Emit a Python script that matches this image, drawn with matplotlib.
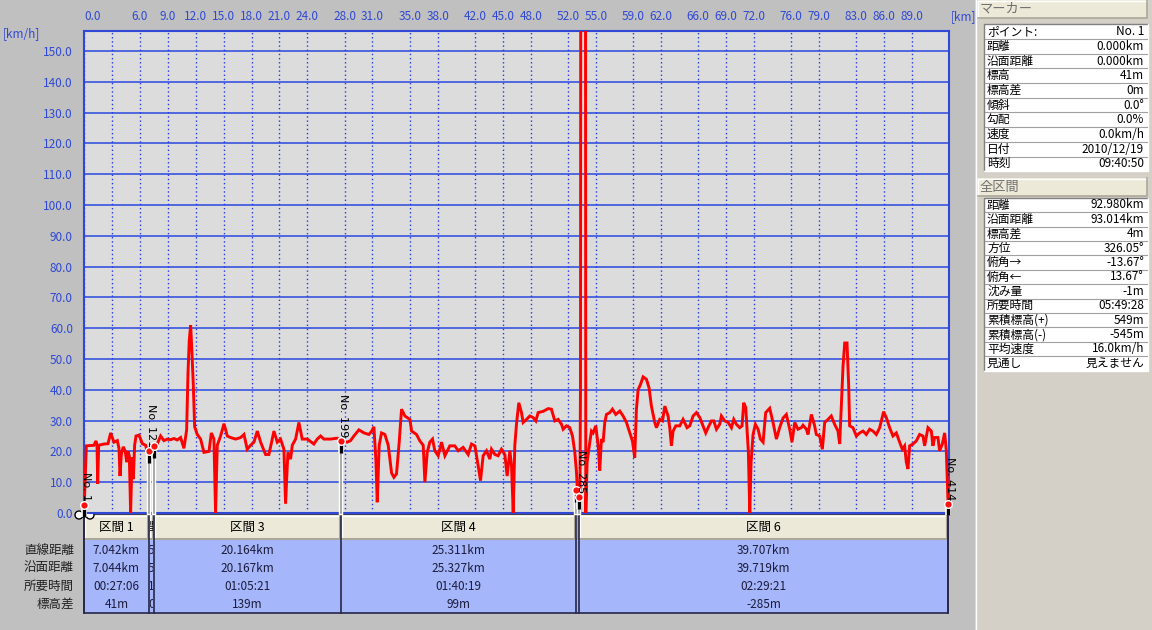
import matplotlib
matplotlib.use('Agg')
import matplotlib.pyplot as plt
from matplotlib.patches import Rectangle, Circle
from matplotlib.transforms import ScaledTranslation, Bbox
import matplotlib.patheffects as pe

plt.rcParams['font.family'] = ['Noto Sans CJK JP', 'DejaVu Sans']

# ---------------- data ----------------
dist_km = [
    0.00, 0.25, 1.07, 1.29, 1.40, 1.47, 1.58, 2.15, 2.58, 2.86, 3.22, 3.58, 3.76, 3.87, 4.01,
    4.22, 4.44, 4.58, 4.73, 4.87, 5.01, 5.16, 5.30, 5.44, 5.59, 5.91, 6.27, 6.62, 6.87, 7.02,
    7.23, 7.52, 7.88, 8.23, 8.59, 8.95, 9.31, 9.67, 10.02, 10.38, 10.74, 11.03, 11.17, 11.31,
    11.46, 11.60, 11.74, 11.89, 12.17, 12.53, 12.89, 13.43, 13.68, 13.96, 14.14, 14.32, 14.68,
    15.04, 15.40, 15.75, 16.29, 16.83, 17.19, 17.54, 17.90, 18.26, 18.62, 18.98, 19.51, 19.87,
    20.41, 20.77, 21.12, 21.48, 21.66, 21.91, 22.20, 22.38, 22.74, 23.09, 23.45, 23.99, 24.70,
    25.06, 25.42, 25.78, 26.49, 27.21, 27.75, 28.28, 28.64, 29.00, 29.54, 30.08, 30.61,
    30.90, 31.15, 31.36, 31.51, 31.72, 31.97, 32.33, 32.69, 33.05, 33.30, 33.58, 33.87, 34.12,
    34.48, 35.02, 35.20, 35.73, 36.09, 36.45, 36.63, 36.88, 37.16, 37.45, 37.70, 38.06, 38.42,
    38.78, 39.31, 39.85, 40.21, 40.74, 41.28, 41.64, 42.00, 42.18, 42.61, 42.89, 43.25, 43.61,
    43.79, 44.15, 44.50, 44.86, 45.22, 45.47, 45.76, 45.94, 46.12, 46.29, 46.47, 46.72, 47.01,
    47.19, 47.55, 47.91, 48.26, 48.55, 48.80, 49.34, 49.88, 50.23, 50.59, 50.95, 51.31, 51.49,
    51.84, 52.20, 52.49, 52.74, 52.92, 53.10, 53.28, 53.35, 53.42, 53.85, 53.92, 54.06, 54.35,
    54.53, 54.71, 54.99, 55.25, 55.42, 55.60, 55.78, 55.96, 56.14, 56.50, 56.78, 57.14, 57.57,
    57.93, 58.29, 58.65, 58.93, 59.18, 59.36, 59.54, 59.79, 60.08, 60.44, 60.72, 60.97, 61.33,
    61.51, 61.87, 62.16, 62.41, 62.76, 62.94, 63.12, 63.30, 63.59, 64.02, 64.37, 64.80, 65.09,
    65.45, 65.81, 66.17, 66.52, 66.81, 67.06, 67.42, 67.67, 67.96, 68.31, 68.49, 68.85, 69.21,
    69.57, 69.82, 70.10, 70.46, 70.71, 70.89, 71.11, 71.25, 71.39, 71.54, 71.68, 71.89, 72.14,
    72.43, 72.68, 72.97, 73.25, 73.68, 74.04, 74.40, 74.75, 75.11, 75.47, 75.83, 76.08, 76.37,
    76.72, 77.08, 77.26, 77.62, 77.80, 78.16, 78.51, 78.69, 79.05, 79.34, 79.59, 79.95, 80.30,
    80.66, 81.02, 81.20, 81.38, 81.56, 81.74, 81.99, 82.17, 82.27, 82.63, 82.99, 83.35, 83.71,
    84.06, 84.42, 84.78, 85.14, 85.50, 85.92, 86.21, 86.57, 86.93, 87.29, 87.64, 87.93, 88.18,
    88.36, 88.54, 88.72, 89.08, 89.43, 89.79, 90.15, 90.33, 90.69, 91.05, 91.22, 91.40, 91.76,
    91.94, 92.23, 92.48, 92.66, 92.85,
]
speed_kmh = [
    0.0, 21.8, 22.0, 23.4, 22.0, 9.5, 22.0, 22.4, 22.5, 26.0, 23.0, 23.5, 21.0, 12.0, 19.0,
    21.5, 20.0, 16.5, 20.0, 18.5, 0.0, 18.0, 11.0, 22.0, 25.0, 25.3, 22.5, 22.0, 19.0, 17.5,
    19.5, 22.0, 22.5, 25.0, 23.5, 24.0, 23.8, 24.2, 23.7, 24.5, 21.0, 27.0, 45.0, 56.0,
    61.0, 52.0, 42.0, 28.0, 25.5, 24.0, 19.7, 20.0, 26.0, 24.0, 0.0, 22.0, 25.0,
    29.0, 25.0, 24.5, 24.0, 24.5, 25.5, 20.7, 22.0, 23.0, 26.6, 23.0, 19.0, 19.0,
    26.6, 23.0, 24.0, 20.7, 3.0, 19.7, 17.5, 22.0, 24.0, 29.4, 24.0, 24.0, 22.4,
    24.0, 25.0, 24.0, 24.0, 24.3, 23.4, 23.0, 23.5, 25.0, 27.0, 26.0, 25.5,
    26.5, 28.0, 17.5, 3.5, 22.0, 26.0, 25.5, 22.0, 13.0, 11.6, 12.7, 23.0, 33.7,
    31.5, 30.4, 26.6, 25.5, 23.4, 22.0, 10.0, 19.7, 23.0, 24.0, 20.2, 18.6, 23.0,
    18.6, 21.8, 21.8, 20.2, 21.3, 19.0, 22.4, 21.8, 18.6, 10.5, 18.6, 20.2, 17.5,
    20.7, 19.0, 18.6, 20.7, 19.0, 12.0, 20.2, 15.4, 0.0, 21.8, 28.8, 35.8, 32.6,
    29.4, 30.4, 31.5, 31.0, 29.9, 32.6, 33.0, 33.9, 33.7, 29.9, 30.4, 28.8, 27.2,
    28.3, 27.7, 25.0, 19.7, 13.2, 2.5, 0.0, 41.0, 400.0, 400.0, 0.0, 16.5, 23.0,
    26.6, 26.0, 28.3, 21.8, 13.8, 24.0, 23.0, 29.4, 32.0, 32.6, 33.7, 32.0, 33.1,
    31.5, 29.4, 26.0, 23.4, 18.0, 33.7, 40.0, 41.7, 44.2, 43.4, 40.6, 34.7, 29.4,
    27.7, 30.4, 29.9, 34.7, 31.5, 27.7, 21.8, 26.6, 28.3, 28.3, 30.4, 27.7, 28.3,
    31.5, 32.6, 31.0, 28.3, 26.0, 27.7, 29.9, 29.9, 27.2, 28.8, 31.5, 29.9, 29.4,
    27.7, 30.4, 28.8, 27.7, 28.3, 35.8, 34.2, 27.2, 19.7, 0.0, 16.5, 25.5, 28.8,
    27.2, 24.0, 23.0, 32.6, 34.0, 29.4, 24.0, 27.7, 30.8, 32.0, 27.2, 23.0, 29.4,
    27.2, 27.7, 28.5, 27.2, 25.5, 32.0, 28.3, 25.5, 25.0, 20.7, 29.4, 30.4, 31.5,
    28.8, 26.6, 22.4, 34.7, 47.6, 55.2, 55.2, 41.2, 28.3, 27.7, 25.0, 26.0, 26.6,
    25.5, 27.2, 26.6, 25.5, 27.7, 32.9, 31.0, 27.7, 25.0, 26.0, 23.0, 20.7, 21.8,
    16.5, 14.3, 21.8, 22.4, 23.4, 25.5, 25.0, 21.8, 27.7, 26.6, 21.8, 24.5, 24.5,
    20.2, 22.4, 26.0, 20.2, 3.0,
]

x_ticks = [0, 3, 6, 9, 12, 15, 18, 21, 24, 28, 31, 35, 38, 42, 45, 48, 52, 55,
           59, 62, 66, 69, 72, 76, 79, 83, 86, 89]
x_tick_labels = ['0.0', ''] + ['%.1f' % v for v in x_ticks[2:]]
y_ticks = list(range(0, 151, 10))
y_tick_labels = ['%.1f' % v for v in y_ticks]

marker_km = [0.0, 6.97, 7.51, 27.62, 52.92, 53.20, 92.85]
marker_speed = [2.5, 20.1, 21.8, 23.4, 7.5, 5.2, 3.0]
marker_labels = ['No. 1', 'No. 121', '', 'No. 199', '', 'No. 285', 'No. 414']

# narrow sections (2 and 5) only show a sliver of their text in the reference
section_names = ['区間 1', '間', '区間 3', '区間 4', '', '区間 6']
row_names = ['直線距離', '沿面距離', '所要時間', '標高差']
sec_straight = ['7.042km', '5', '20.164km', '25.311km', '', '39.707km']
sec_surface = ['7.044km', '5', '20.167km', '25.327km', '', '39.719km']
sec_time = ['00:27:06', '1', '01:05:21', '01:40:19', '', '02:29:21']
sec_elev = ['41m', '0', '139m', '99m', '', '-285m']

marker_rows = ['ポイント:', '距離', '沿面距離', '標高', '標高差', '傾斜', '勾配',
               '速度', '日付', '時刻']
marker_vals = ['No. 1', '0.000km', '0.000km', '41m', '0m', '0.0°', '0.0%',
               '0.0km/h', '2010/12/19', '09:40:50']
total_rows = ['距離', '沿面距離', '標高差', '方位', '俯角→', '俯角←', '沈み量',
              '所要時間', '累積標高(+)', '累積標高(-)', '平均速度', '見通し']
total_vals = ['92.980km', '93.014km', '4m', '326.05°', '-13.67°', '13.67°', '-1m',
              '05:49:28', '549m', '-545m', '16.0km/h', '見えません']

# ---------------- figure ----------------
W, H = 1152, 630
BLUE = '#2f49d6'
fig = plt.figure(figsize=(W / 100, H / 100), dpi=100, facecolor='#c0c0c0')
ov = fig.add_axes([0, 0, 1, 1], zorder=0)
ov.set_xlim(0, W)
ov.set_ylim(H, 0)
ov.axis('off')

ax = fig.add_axes([84 / W, 1 - 513 / H, (949.3 - 84) / W, (513 - 31) / H], zorder=2)
ax.set_facecolor('#dcdcdc')
ax.set_xlim(0, 92.98)
ax.set_ylim(0, 156.5)

for yv in y_ticks:
    ax.axhline(yv, color='#2a48e0', lw=1.1, zorder=1)
for xv in x_ticks:
    ax.axvline(xv, color='#2038f0', lw=1.0, ls=(0, (1, 2)), zorder=1)

ax.plot(dist_km, speed_kmh, color='#ff0000', lw=2.1, zorder=3, solid_joinstyle='miter')

ax.xaxis.set_ticks_position('top')
ax.set_xticks(x_ticks)
ax.set_xticklabels(x_tick_labels)
ax.set_yticks(y_ticks)
ax.set_yticklabels(y_tick_labels)
ax.tick_params(axis='x', length=0, pad=6, labelsize=8.5, labelcolor=BLUE)
ax.tick_params(axis='y', length=0, pad=8, labelsize=8.5, labelcolor=BLUE)
ax.get_xticklabels()[0].set_horizontalalignment('left')
for s in ax.spines.values():
    s.set_color(BLUE)
    s.set_linewidth(1.5)

fig.text(963 / W, 1 - 17 / H, '[km]', color=BLUE, fontsize=8.5, ha='center', va='center')
fig.text(3 / W, 1 - 34 / H, '[km/h]', color=BLUE, fontsize=8.5, ha='left', va='center')

# ---------------- marker pins ----------------
down = ScaledTranslation(0, -0.065, fig.dpi_scale_trans)
up = ScaledTranslation(0.02, 0.04, fig.dpi_scale_trans)
white_edge = [pe.Stroke(linewidth=3.2, foreground='white'), pe.Normal()]
for km, v, lab in zip(marker_km, marker_speed, marker_labels):
    ax.plot([km, km], [0, v], color='#9a9a9a', lw=1.2, zorder=4, clip_on=False,
            path_effects=white_edge)
    ax.plot([km], [v], marker='|', ms=7.5, mew=2.4, color='black', zorder=5,
            transform=ax.transData + down, clip_on=False,
            path_effects=[pe.Stroke(linewidth=4, foreground='white'), pe.Normal()])
    ax.plot([km], [v], marker='o', ms=5.5, mfc='#ff1010', mec='white', mew=1.0,
            zorder=6, clip_on=False)
    if lab:
        ax.text(km, v, lab, rotation=-90, ha='center', va='bottom', fontsize=8,
                family='DejaVu Sans', color='black', zorder=6,
                transform=ax.transData + up, clip_on=False)

# bicycle icon at start
for cx in (79, 90):
    ov.add_patch(Circle((cx, 515), 4, facecolor='white', edgecolor='black', lw=1, zorder=5))
ov.add_patch(Rectangle((82, 506), 6, 7, facecolor='#b05a20', edgecolor='none', zorder=6))

# ---------------- bottom table ----------------
fig.canvas.draw()
bx = [ax.transData.transform((k, 0))[0] for k in marker_km]
hdr_top, hdr_bot, tbl_bot = 515, 540, 613
row_y = [550, 568, 586, 604]
cols = [sec_straight, sec_surface, sec_time, sec_elev]


def clipbox(x0, y0, x1, y1):
    p0 = ov.transData.transform((x0, y0))
    p1 = ov.transData.transform((x1, y1))
    return Bbox.from_extents(min(p0[0], p1[0]), min(p0[1], p1[1]),
                             max(p0[0], p1[0]), max(p0[1], p1[1]))


for i in range(len(section_names)):
    x0, x1 = bx[i], bx[i + 1]
    ov.add_patch(Rectangle((x0, hdr_top), x1 - x0, hdr_bot - hdr_top,
                           facecolor='#ece9d8', edgecolor='none', zorder=1))
    ov.plot([x0 + 1, x0 + 1, x1 - 1], [hdr_bot - 1, hdr_top + 1, hdr_top + 1],
            color='white', lw=1, zorder=2)
    ov.plot([x0 + 1, x1 - 1, x1 - 1], [hdr_bot - 1, hdr_bot - 1, hdr_top + 1],
            color='#aca899', lw=1.5, zorder=2)
    ov.add_patch(Rectangle((x0, hdr_bot), x1 - x0, tbl_bot - hdr_bot,
                           facecolor='#a5b6fa', edgecolor='none', zorder=1))
    cb = clipbox(x0 + 1, hdr_top, x1 - 1, tbl_bot)
    xc = (x0 + x1) / 2
    t = ov.text(xc, (hdr_top + hdr_bot) / 2, section_names[i], ha='center', va='center',
                fontsize=9, color='black', zorder=3)
    t.set_clip_box(cb)
    t.set_clip_on(True)
    for ry, col in zip(row_y, cols):
        t = ov.text(xc, ry, col[i], ha='center', va='center', fontsize=8.5,
                    color='#1c1c3c', zorder=3)
        t.set_clip_box(cb)
        t.set_clip_on(True)
for x in bx:
    ov.plot([x, x], [hdr_top - 1, tbl_bot], color='#26264a', lw=1.2, zorder=4)
ov.add_patch(Rectangle((bx[0], hdr_top - 1), bx[-1] - bx[0], tbl_bot - hdr_top + 1,
                       facecolor='none', edgecolor='#26264a', lw=1.2, zorder=4))
for ry, name in zip(row_y, row_names):
    ov.text(74, ry, name, ha='right', va='center', fontsize=9, color='#202020')

# ---------------- right panel ----------------
ov.add_patch(Rectangle((975, 0), W - 975, H, facecolor='#d4d0c8', edgecolor='none', zorder=0))
ov.plot([975.5, 975.5], [0, H], color='#ffffff', lw=1, zorder=1)


def header(y0, y1, text):
    ov.add_patch(Rectangle((977, y0), 170, y1 - y0, facecolor='#ece9d8',
                           edgecolor='none', zorder=1))
    ov.plot([977.5, 977.5, 1147], [y1, y0 + 0.5, y0 + 0.5], color='white', lw=1, zorder=2)
    ov.plot([977.5, 1147, 1147], [y1 - 0.5, y1 - 0.5, y0], color='#aca899', lw=1.2, zorder=2)
    ov.text(980, (y0 + y1) / 2, text, ha='left', va='center', fontsize=9.5,
            color='#707070', zorder=3)


def info_table(y0, rh, labels, values):
    n = len(labels)
    y1 = y0 + n * rh
    ov.add_patch(Rectangle((984, y0), 164, y1 - y0, facecolor='white',
                           edgecolor='none', zorder=1))
    ov.plot([984, 984, 1148], [y1, y0, y0], color='#808080', lw=1, zorder=2)
    ov.plot([984, 1148, 1148], [y1, y1, y0], color='#ffffff', lw=1, zorder=2)
    for k in range(n):
        yc = y0 + (k + 0.5) * rh
        ov.text(987, yc, labels[k], ha='left', va='center', fontsize=8.5, color='black', zorder=3)
        ov.text(1144, yc, values[k], ha='right', va='center', fontsize=8.5, color='black', zorder=3)
        if k < n - 1:
            ov.plot([985, 1147], [y0 + (k + 1) * rh] * 2, color='#a0a0a0', lw=0.8, zorder=2)


header(0, 18, 'マーカー')
info_table(24.3, 14.7, marker_rows, marker_vals)
header(178, 196, '全区間')
info_table(197.8, 14.4, total_rows, total_vals)

fig.savefig('out.png', dpi=100, facecolor=fig.get_facecolor())
